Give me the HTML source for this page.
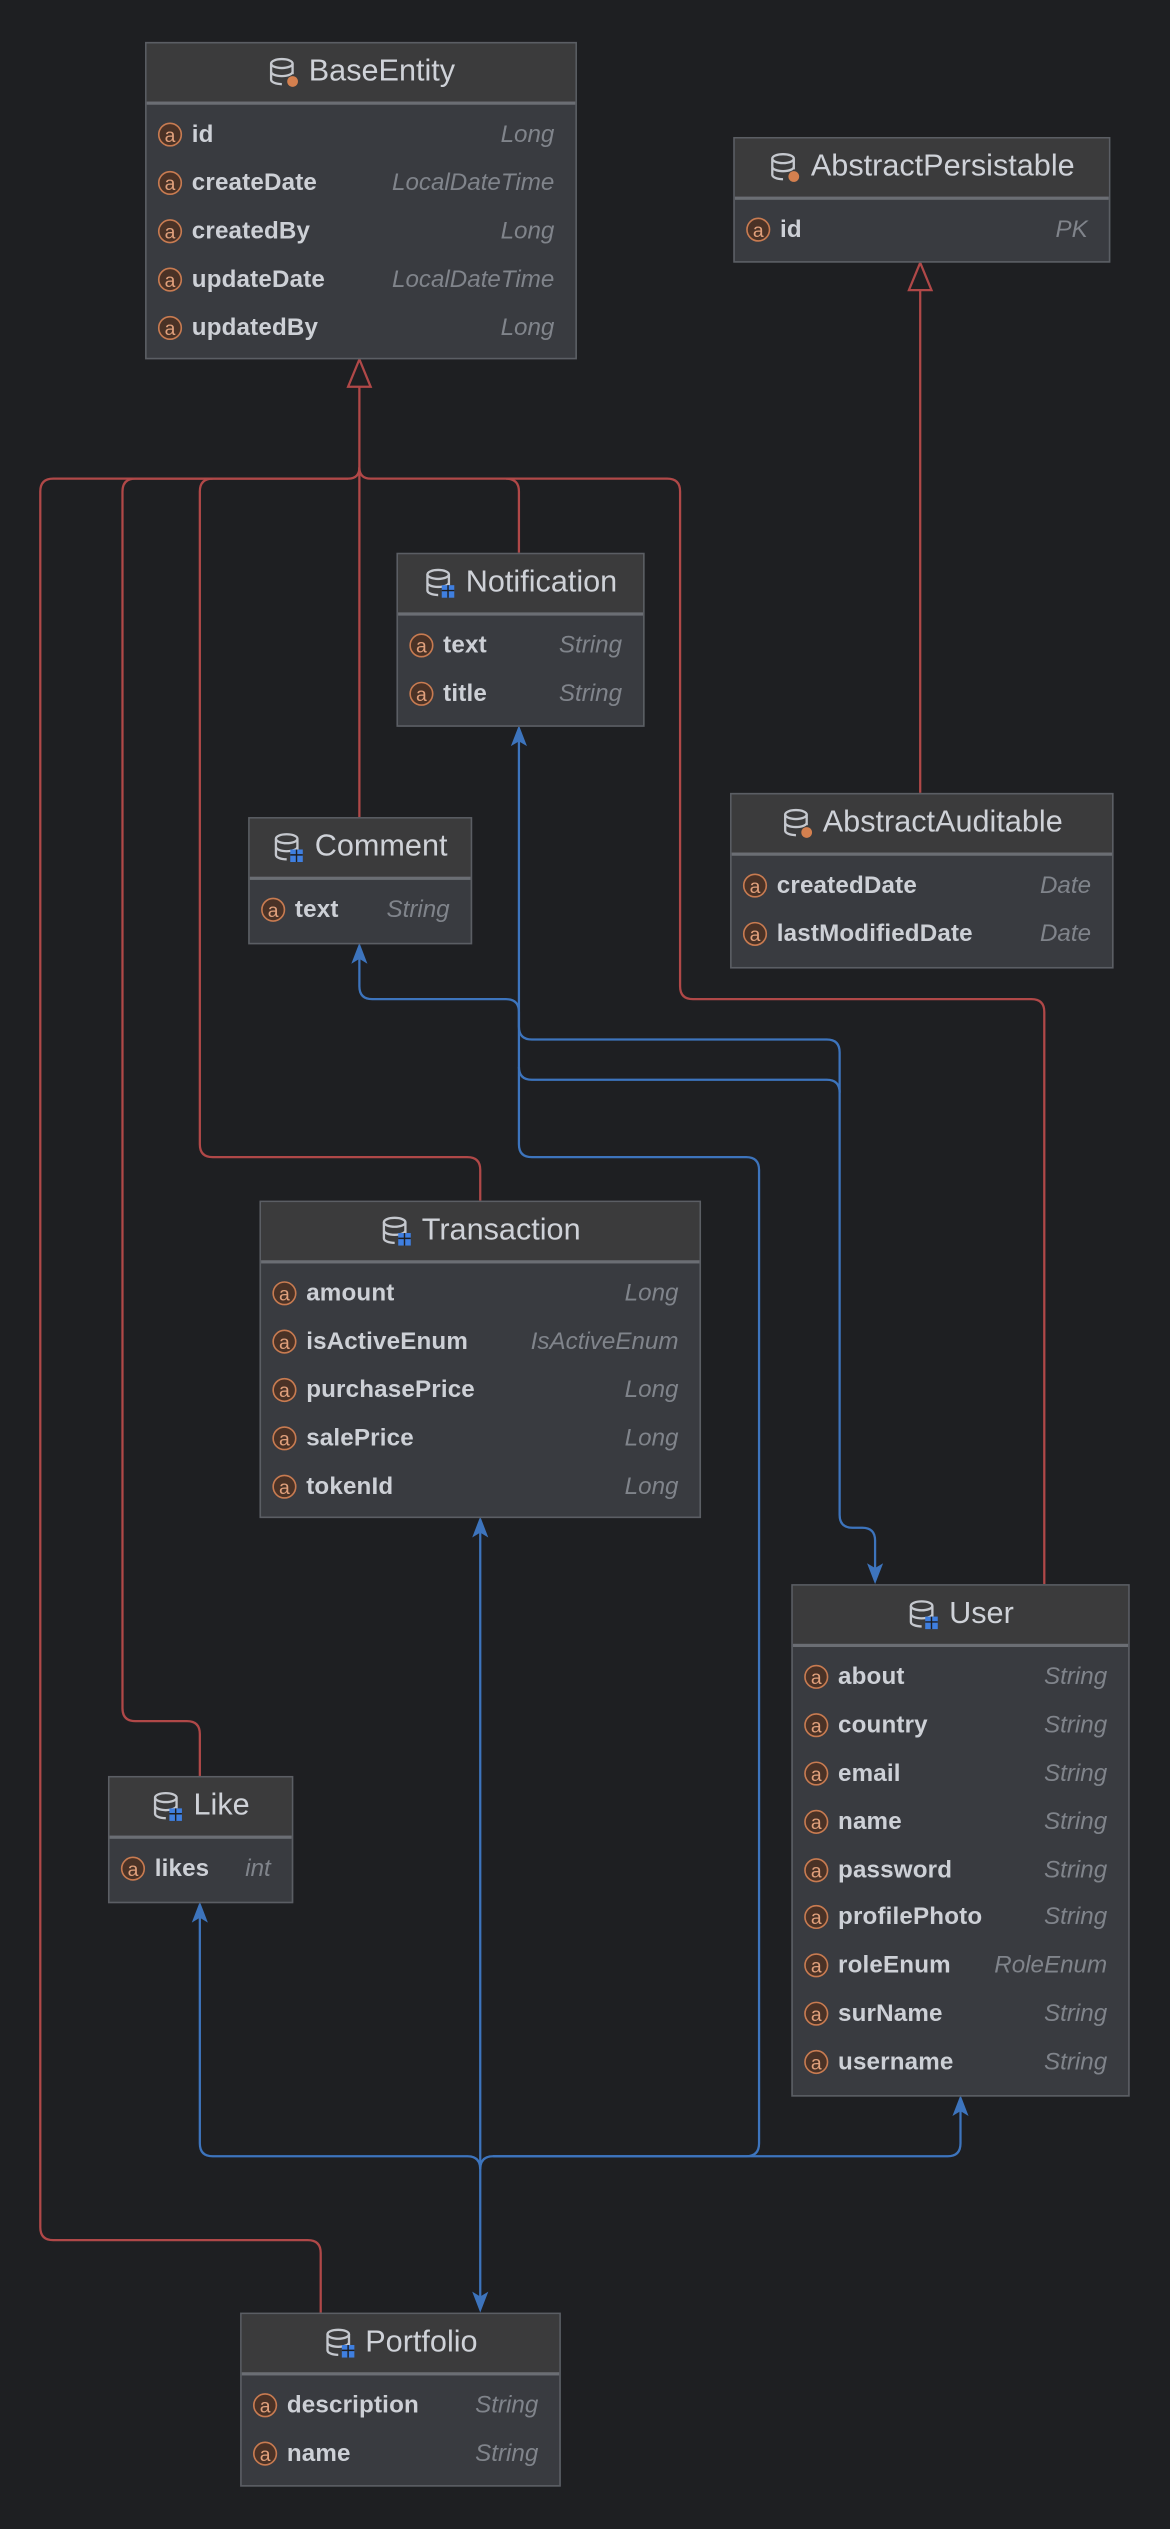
<!DOCTYPE html>
<html><head><meta charset="utf-8"><style>
html,body{margin:0;padding:0;background:#1e1f22;}
#wrap{position:relative;width:726px;height:1569px;transform:scale(1.61157);transform-origin:0 0;font-family:"Liberation Sans",sans-serif;}
.box{position:absolute;background:#393b40;border:1px solid #5b5e64;box-sizing:border-box;}
.hd{height:36px;background:#3b3b3c;border-bottom:2px solid #6b6e74;display:flex;align-items:center;justify-content:center;color:#cfd2d8;font-size:19px;}
.hd svg{margin-right:6px;width:20px;height:20px}
.row{height:29.8px;display:flex;align-items:center;font-size:15px;color:#cdd0d6;padding:0 13px 0 7px;}
.hd + .row{margin-top:4px}
.ic{width:15px;height:15px;border:1.3px solid #c87b51;border-radius:50%;background:#4a3226;color:#e0a07c;font-size:12px;line-height:14px;text-align:center;box-sizing:border-box;margin-right:6px;flex:none;position:relative}
.nm{flex:1;font-weight:bold;letter-spacing:0.1px}
.ty{color:#80848b;font-style:italic}
svg.c{position:absolute;left:0;top:0}
</style></head><body><div id="wrap">
<svg class="c" width="726" height="1569" fill="none">
<g stroke="#b04848" stroke-width="1.4">
<path d="M223 240 V290 Q223 297 216 297 H33 Q25 297 25 305 V1382 Q25 1390 33 1390 H191 Q199 1390 199 1398 V1435"/>
<path d="M216 297 H84 Q76 297 76 305 V1060 Q76 1068 84 1068 H116 Q124 1068 124 1076 V1102"/>
<path d="M132 297 Q124 297 124 305 V710 Q124 718 132 718 H290 Q298 718 298 726 V745"/>
<path d="M223 290 V507"/>
<path d="M223 290 Q223 297 230 297 H314 Q322 297 322 305 V343"/>
<path d="M314 297 H414 Q422 297 422 305 V612 Q422 620 430 620 H640 Q648 620 648 628 V983"/>
<path d="M571 180 V492"/>
<path d="M223 223 L216 240 L230 240 Z" fill="#1e1f22"/>
<path d="M571 163 L564 180 L578 180 Z" fill="#1e1f22"/>
</g>
<g stroke="#3d74bd" stroke-width="1.4">
<path d="M322 455 V710 Q322 718 330 718 H463 Q471 718 471 726 V1330 Q471 1338 463 1338 H306 Q298 1338 298 1346"/>
<path d="M223 590 V612 Q223 620 231 620 H314 Q322 620 322 628 V637 Q322 645 330 645 H513 Q521 645 521 653 V940 Q521 948 529 948 H535 Q543 948 543 956 V978"/>
<path d="M322 662 Q322 670 330 670 H513 Q521 670 521 678"/>
<path d="M298 946 V1430"/>
<path d="M124 1185 V1330 Q124 1338 132 1338 H290 Q298 1338 298 1346"/>
<path d="M596 1305 V1330 Q596 1338 588 1338 H306"/>
</g>
<g fill="#3d74bd">
<path d="M322 450 l-5 13 l5 -3 l5 3z"/>
<path d="M223 585 l-5 13 l5 -3 l5 3z"/>
<path d="M298 941 l-5 13 l5 -3 l5 3z"/>
<path d="M124 1180 l-5 13 l5 -3 l5 3z"/>
<path d="M596 1300 l-5 13 l5 -3 l5 3z"/>
<path d="M543 983 l-5 -13 l5 3 l5 -3z"/>
<path d="M298 1435 l-5 -13 l5 3 l5 -3z"/>
</g>
</svg>

<div class="box" style="left:90px;top:26px;width:268px;height:197px">
<div class="hd"><svg viewBox="0 0 18 18"><g stroke="#c5c8ce" stroke-width="1.3" fill="none"><ellipse cx="8" cy="4" rx="6" ry="2.5"/><path d="M2 4v9c0 1.4 2.7 2.5 6 2.5M14 4v6M2 8.5c0 1.4 2.7 2.5 6 2.5s6-1.1 6-2.5"/></g><circle cx="14" cy="14" r="3" fill="#d4804f"/></svg>BaseEntity</div>
<div class="row"><span class="ic">a</span><span class="nm">id</span><span class="ty">Long</span></div>
<div class="row"><span class="ic">a</span><span class="nm">createDate</span><span class="ty">LocalDateTime</span></div>
<div class="row"><span class="ic">a</span><span class="nm">createdBy</span><span class="ty">Long</span></div>
<div class="row"><span class="ic">a</span><span class="nm">updateDate</span><span class="ty">LocalDateTime</span></div>
<div class="row"><span class="ic">a</span><span class="nm">updatedBy</span><span class="ty">Long</span></div>
</div>

<div class="box" style="left:455px;top:85px;width:234px;height:78px">
<div class="hd"><svg viewBox="0 0 18 18"><g stroke="#c5c8ce" stroke-width="1.3" fill="none"><ellipse cx="8" cy="4" rx="6" ry="2.5"/><path d="M2 4v9c0 1.4 2.7 2.5 6 2.5M14 4v6M2 8.5c0 1.4 2.7 2.5 6 2.5s6-1.1 6-2.5"/></g><circle cx="14" cy="14" r="3" fill="#d4804f"/></svg>AbstractPersistable</div>
<div class="row"><span class="ic">a</span><span class="nm">id</span><span class="ty">PK</span></div>
</div>

<div class="box" style="left:246px;top:343px;width:154px;height:108px">
<div class="hd"><svg viewBox="0 0 18 18"><g stroke="#c5c8ce" stroke-width="1.3" fill="none"><ellipse cx="8" cy="4" rx="6" ry="2.5"/><path d="M2 4v9c0 1.4 2.7 2.5 6 2.5M14 4v6M2 8.5c0 1.4 2.7 2.5 6 2.5s6-1.1 6-2.5"/></g><rect x="10" y="10" width="7" height="7" fill="#3f7fe0"/><path d="M10 13h7M13.5 10v7" stroke="#1e1f22" stroke-width="0.8"/></svg>Notification</div>
<div class="row"><span class="ic">a</span><span class="nm">text</span><span class="ty">String</span></div>
<div class="row"><span class="ic">a</span><span class="nm">title</span><span class="ty">String</span></div>
</div>

<div class="box" style="left:154px;top:507px;width:139px;height:79px">
<div class="hd"><svg viewBox="0 0 18 18"><g stroke="#c5c8ce" stroke-width="1.3" fill="none"><ellipse cx="8" cy="4" rx="6" ry="2.5"/><path d="M2 4v9c0 1.4 2.7 2.5 6 2.5M14 4v6M2 8.5c0 1.4 2.7 2.5 6 2.5s6-1.1 6-2.5"/></g><rect x="10" y="10" width="7" height="7" fill="#3f7fe0"/><path d="M10 13h7M13.5 10v7" stroke="#1e1f22" stroke-width="0.8"/></svg>Comment</div>
<div class="row"><span class="ic">a</span><span class="nm">text</span><span class="ty">String</span></div>
</div>

<div class="box" style="left:453px;top:492px;width:238px;height:109px">
<div class="hd"><svg viewBox="0 0 18 18"><g stroke="#c5c8ce" stroke-width="1.3" fill="none"><ellipse cx="8" cy="4" rx="6" ry="2.5"/><path d="M2 4v9c0 1.4 2.7 2.5 6 2.5M14 4v6M2 8.5c0 1.4 2.7 2.5 6 2.5s6-1.1 6-2.5"/></g><circle cx="14" cy="14" r="3" fill="#d4804f"/></svg>AbstractAuditable</div>
<div class="row"><span class="ic">a</span><span class="nm">createdDate</span><span class="ty">Date</span></div>
<div class="row"><span class="ic">a</span><span class="nm">lastModifiedDate</span><span class="ty">Date</span></div>
</div>

<div class="box" style="left:161px;top:745px;width:274px;height:197px">
<div class="hd"><svg viewBox="0 0 18 18"><g stroke="#c5c8ce" stroke-width="1.3" fill="none"><ellipse cx="8" cy="4" rx="6" ry="2.5"/><path d="M2 4v9c0 1.4 2.7 2.5 6 2.5M14 4v6M2 8.5c0 1.4 2.7 2.5 6 2.5s6-1.1 6-2.5"/></g><rect x="10" y="10" width="7" height="7" fill="#3f7fe0"/><path d="M10 13h7M13.5 10v7" stroke="#1e1f22" stroke-width="0.8"/></svg>Transaction</div>
<div class="row"><span class="ic">a</span><span class="nm">amount</span><span class="ty">Long</span></div>
<div class="row"><span class="ic">a</span><span class="nm">isActiveEnum</span><span class="ty">IsActiveEnum</span></div>
<div class="row"><span class="ic">a</span><span class="nm">purchasePrice</span><span class="ty">Long</span></div>
<div class="row"><span class="ic">a</span><span class="nm">salePrice</span><span class="ty">Long</span></div>
<div class="row"><span class="ic">a</span><span class="nm">tokenId</span><span class="ty">Long</span></div>
</div>

<div class="box" style="left:491px;top:983px;width:210px;height:318px">
<div class="hd"><svg viewBox="0 0 18 18"><g stroke="#c5c8ce" stroke-width="1.3" fill="none"><ellipse cx="8" cy="4" rx="6" ry="2.5"/><path d="M2 4v9c0 1.4 2.7 2.5 6 2.5M14 4v6M2 8.5c0 1.4 2.7 2.5 6 2.5s6-1.1 6-2.5"/></g><rect x="10" y="10" width="7" height="7" fill="#3f7fe0"/><path d="M10 13h7M13.5 10v7" stroke="#1e1f22" stroke-width="0.8"/></svg>User</div>
<div class="row"><span class="ic">a</span><span class="nm">about</span><span class="ty">String</span></div>
<div class="row"><span class="ic">a</span><span class="nm">country</span><span class="ty">String</span></div>
<div class="row"><span class="ic">a</span><span class="nm">email</span><span class="ty">String</span></div>
<div class="row"><span class="ic">a</span><span class="nm">name</span><span class="ty">String</span></div>
<div class="row"><span class="ic">a</span><span class="nm">password</span><span class="ty">String</span></div>
<div class="row"><span class="ic">a</span><span class="nm">profilePhoto</span><span class="ty">String</span></div>
<div class="row"><span class="ic">a</span><span class="nm">roleEnum</span><span class="ty">RoleEnum</span></div>
<div class="row"><span class="ic">a</span><span class="nm">surName</span><span class="ty">String</span></div>
<div class="row"><span class="ic">a</span><span class="nm">username</span><span class="ty">String</span></div>
</div>

<div class="box" style="left:67px;top:1102px;width:115px;height:79px">
<div class="hd"><svg viewBox="0 0 18 18"><g stroke="#c5c8ce" stroke-width="1.3" fill="none"><ellipse cx="8" cy="4" rx="6" ry="2.5"/><path d="M2 4v9c0 1.4 2.7 2.5 6 2.5M14 4v6M2 8.5c0 1.4 2.7 2.5 6 2.5s6-1.1 6-2.5"/></g><rect x="10" y="10" width="7" height="7" fill="#3f7fe0"/><path d="M10 13h7M13.5 10v7" stroke="#1e1f22" stroke-width="0.8"/></svg>Like</div>
<div class="row"><span class="ic">a</span><span class="nm">likes</span><span class="ty">int</span></div>
</div>

<div class="box" style="left:149px;top:1435px;width:199px;height:108px">
<div class="hd"><svg viewBox="0 0 18 18"><g stroke="#c5c8ce" stroke-width="1.3" fill="none"><ellipse cx="8" cy="4" rx="6" ry="2.5"/><path d="M2 4v9c0 1.4 2.7 2.5 6 2.5M14 4v6M2 8.5c0 1.4 2.7 2.5 6 2.5s6-1.1 6-2.5"/></g><rect x="10" y="10" width="7" height="7" fill="#3f7fe0"/><path d="M10 13h7M13.5 10v7" stroke="#1e1f22" stroke-width="0.8"/></svg>Portfolio</div>
<div class="row"><span class="ic">a</span><span class="nm">description</span><span class="ty">String</span></div>
<div class="row"><span class="ic">a</span><span class="nm">name</span><span class="ty">String</span></div>
</div>
</div></body></html>
